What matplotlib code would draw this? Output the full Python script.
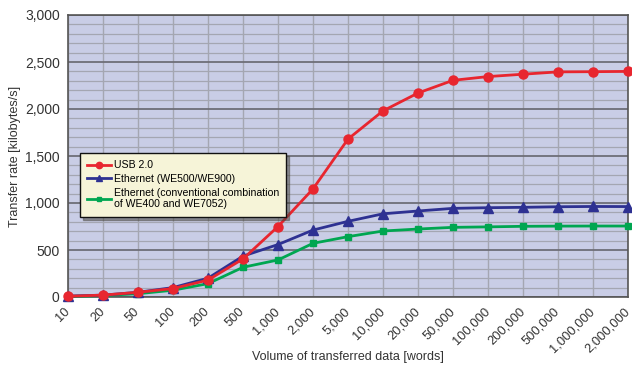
import matplotlib
matplotlib.use("Agg")
import matplotlib.pyplot as plt
from matplotlib.ticker import MultipleLocator, FuncFormatter

plt.rcParams['font.family'] = ['Liberation Sans', 'DejaVu Sans']

categories = ["10", "20", "50", "100", "200", "500", "1,000", "2,000", "5,000", "10,000",
              "20,000", "50,000", "100,000", "200,000", "500,000", "1,000,000", "2,000,000"]
usb = [8, 20, 50, 90, 180, 405, 750, 1150, 1680, 1980, 2170, 2305, 2345, 2370, 2395, 2397, 2400]
eth_new = [10, 20, 50, 100, 200, 435, 558, 712, 805, 885, 915, 943, 950, 954, 960, 963, 962]
eth_old = [5, 15, 35, 72, 142, 316, 394, 571, 642, 702, 723, 741, 746, 752, 754, 755, 755]
labels = ["USB 2.0", "Ethernet (WE500/WE900)",
          "Ethernet (conventional combination\nof WE400 and WE7052)"]

fig = plt.figure(figsize=(6.32, 3.75), dpi=100)
ax = fig.add_axes([68/632, 78/375, 560/632, 282/375])
ax.set_facecolor('#c9cde6')
x = list(range(len(categories)))

ax.plot(x, usb, color='#e8262f', marker='o', markersize=6.5, lw=2, label=labels[0], clip_on=False, zorder=5)
ax.plot(x, eth_new, color='#2e3192', marker='^', markersize=7, lw=2, label=labels[1], clip_on=False, zorder=4)
ax.plot(x, eth_old, color='#00a651', marker='s', markersize=4.5, lw=2, label=labels[2], clip_on=False, zorder=3)

ax.set_xlim(0, len(categories) - 1)
ax.set_ylim(0, 3000)
ax.set_xticks(x)
ax.set_xticklabels(categories, rotation=45, ha='right', va='center', rotation_mode='anchor',
                   fontsize=9.3, color='#333333')
ax.yaxis.set_major_locator(MultipleLocator(500))
ax.yaxis.set_minor_locator(MultipleLocator(100))
ax.yaxis.set_major_formatter(FuncFormatter(lambda v, p: f"{int(v):,}"))
ax.tick_params(axis='y', labelsize=10, colors='#333333', length=0, which='both', pad=6)
ax.tick_params(axis='x', length=0, pad=9)
ax.grid(True, which='major', axis='y', color='#6e6e78', lw=1.3, zorder=0)
ax.grid(True, which='minor', axis='y', color='#a4a6b2', lw=0.9, zorder=0)
ax.grid(True, which='major', axis='x', color='#a4a6b2', lw=1.0, zorder=0)
ax.set_axisbelow(True)
for s in ax.spines.values():
    s.set_color('#555555')
    s.set_linewidth(1.2)

ax.set_ylabel("Transfer rate [kilobytes/s]", fontsize=9, color='#333333')
ax.yaxis.set_label_coords((21 - 68) / 560, 0.5)
ax.set_xlabel("Volume of transferred data [words]", fontsize=9, color='#333333')
ax.xaxis.set_label_coords(0.5, -(351 - 297) / 282)

leg = ax.legend(loc='upper left', bbox_to_anchor=(80/632, 1 - 153/375), bbox_transform=fig.transFigure,
                fontsize=7.6, frameon=True, fancybox=False, shadow=True, borderpad=0.7,
                handlelength=2.2, handletextpad=0.3, labelspacing=0.35, borderaxespad=0,
                markerscale=0.7)
leg.get_frame().set_facecolor('#f6f4d8')
leg.get_frame().set_edgecolor('#111111')
leg.get_frame().set_linewidth(1.0)
leg.get_frame().set_alpha(1)
leg.set_zorder(10)

fig.savefig("out.png", dpi=100, facecolor='white')
